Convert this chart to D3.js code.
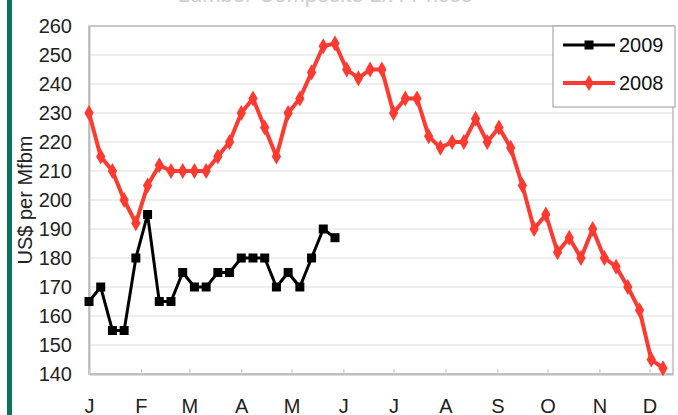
<!DOCTYPE html>
<html>
<head>
<meta charset="utf-8">
<script src="https://cdn.jsdelivr.net/npm/d3@7"></script>
<style>
  html, body { margin: 0; padding: 0; background: #fff; }
  svg { display: block; font-family: "Liberation Sans", Arial, sans-serif; }
</style>
</head>
<body>
<svg id="chart" width="678" height="415"></svg>
<script>
// ---- data ----
const titleText = "Lumber Composite 2x4 Prices";
const yLabel = "US$ per Mfbm";
const monthLabels = ["J","F","M","A","M","J","J","A","S","O","N","D"];
const yTicks = [140,150,160,170,180,190,200,210,220,230,240,250,260];
const seriesNames = ["2009","2008"];
// weekly prices (week 1 = first week of January)
const values2009 = [165,170,155,155,180,195,165,165,175,170,170,175,175,180,180,180,170,175,170,180,190,187];
const values2008 = [230,215,210,200,192,205,212,210,210,210,210,215,220,230,235,225,215,230,235,244,
                    253,254,245,242,245,245,230,235,235,222,218,220,220,228,220,225,218,205,190,195,
                    182,187,180,190,180,177,170,162,145,142];

// ---- layout ----
const W = 678, H = 415;
const plot = {left: 89, top: 26, right: 673, bottom: 374};
const RED = "#ff3a30", BLACK = "#000000", GRID = "#dedede", BORDER = "#bcbcbc";

const svg = d3.select("#chart");
const start = new Date(2008, 0, 1);
const weekDate = i => d3.timeDay.offset(start, 7 * i);

const x = d3.scaleTime().domain([start, new Date(2008, 11, 15)]).range([plot.left, plot.right]);
const y = d3.scaleLinear().domain([140, 260]).range([plot.bottom, plot.top]);

// left green bar
svg.append("rect").attr("x", 7).attr("y", 0).attr("width", 5).attr("height", H).attr("fill", "#0b7358");

// title (cut off at top, as in the original)
svg.append("text").attr("x", 325).attr("y", 2).attr("text-anchor", "middle")
  .attr("font-size", 22).attr("fill", "#d0d0d0").text(titleText);

// gridlines
svg.append("g").selectAll("line").data(yTicks).join("line")
  .attr("x1", plot.left).attr("x2", plot.right)
  .attr("y1", d => y(d)).attr("y2", d => y(d))
  .attr("stroke", GRID).attr("stroke-width", 1.2);

// plot border
svg.append("rect").attr("x", plot.left).attr("y", plot.top)
  .attr("width", plot.right - plot.left).attr("height", plot.bottom - plot.top)
  .attr("fill", "none").attr("stroke", BORDER).attr("stroke-width", 1.5);

// y axis
const yAxis = svg.append("g").attr("transform", `translate(${plot.left},0)`)
  .call(d3.axisLeft(y).tickValues(yTicks).tickSize(0).tickPadding(17).tickFormat(d3.format("d")));
yAxis.select(".domain").attr("stroke", BORDER).attr("stroke-width", 2);
yAxis.selectAll("text").attr("font-size", 20).attr("fill", "#222")
  .attr("font-family", "Liberation Sans, Arial, sans-serif");

// x axis
const monthDates = d3.range(12).map(m => new Date(2008, m, 1));
const xAxis = svg.append("g").attr("transform", `translate(0,${plot.bottom})`)
  .call(d3.axisBottom(x).tickValues(monthDates).tickFormat((d, i) => monthLabels[i])
        .tickSizeInner(-5).tickSizeOuter(0).tickPadding(25));
xAxis.select(".domain").attr("stroke", BORDER).attr("stroke-width", 2);
xAxis.selectAll(".tick line").attr("stroke", "#cfcfcf").attr("stroke-width", 1.2);
xAxis.selectAll("text").attr("font-size", 20).attr("fill", "#222")
  .attr("font-family", "Liberation Sans, Arial, sans-serif");

// y label
svg.append("text").attr("transform", "translate(32,200) rotate(-90)")
  .attr("text-anchor", "middle").attr("font-size", 20).attr("fill", "#222").text(yLabel);

// lines
const line = d3.line().x((d, i) => x(weekDate(i))).y(d => y(d));

svg.append("path").datum(values2008).attr("d", line)
  .attr("fill", "none").attr("stroke", RED).attr("stroke-width", 4).attr("stroke-linejoin", "round");
svg.append("g").selectAll("path").data(values2008).join("path")
  .attr("transform", (d, i) => `translate(${x(weekDate(i))},${y(d)})`)
  .attr("d", d3.symbol(d3.symbolDiamond, 75)).attr("fill", RED);

svg.append("path").datum(values2009).attr("d", line)
  .attr("fill", "none").attr("stroke", BLACK).attr("stroke-width", 3).attr("stroke-linejoin", "miter");
svg.append("g").selectAll("rect").data(values2009).join("rect")
  .attr("x", (d, i) => x(weekDate(i)) - 4.5).attr("y", d => y(d) - 4.5)
  .attr("width", 9).attr("height", 9).attr("fill", BLACK);

// legend
const lg = svg.append("g");
lg.append("rect").attr("x", 553).attr("y", 26).attr("width", 122).attr("height", 81)
  .attr("fill", "#fff").attr("stroke", "#a8a8a8").attr("stroke-width", 1.2);
const legendRows = [
  {name: seriesNames[0], color: BLACK, sym: "square", sw: 3},
  {name: seriesNames[1], color: RED, sym: "diamond", sw: 4}
];
legendRows.forEach((r, i) => {
  const cy = 45 + i * 38;
  lg.append("line").attr("x1", 563).attr("x2", 615).attr("y1", cy).attr("y2", cy)
    .attr("stroke", r.color).attr("stroke-width", r.sw);
  if (r.sym === "square") {
    lg.append("rect").attr("x", 589 - 4.5).attr("y", cy - 4.5).attr("width", 9).attr("height", 9).attr("fill", r.color);
  } else {
    lg.append("path").attr("transform", `translate(589,${cy})`)
      .attr("d", d3.symbol(d3.symbolDiamond, 75)).attr("fill", r.color);
  }
  lg.append("text").attr("x", 619).attr("y", cy + 7).attr("font-size", 20).attr("fill", "#111").text(r.name);
});
</script>
</body>
</html>
